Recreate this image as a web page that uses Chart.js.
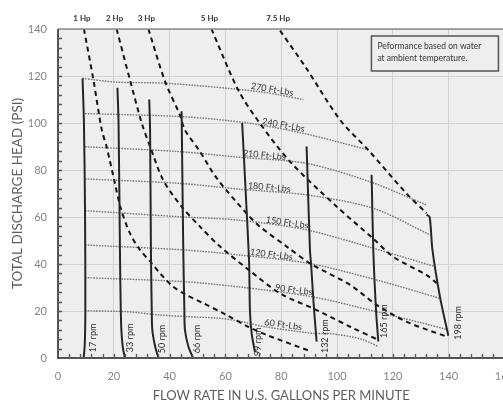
<!DOCTYPE html>
<html>
<head>
<meta charset="utf-8">
<script src="https://cdn.jsdelivr.net/npm/chart.js@4.4.1/dist/chart.umd.min.js"></script>
<style>
  html, body { margin: 0; padding: 0; background: #fff; overflow: hidden; width: 503px; height: 406px; }
  #wrap { position: relative; width: 526px; height: 406px; }
</style>
</head>
<body>
<div id="wrap"><canvas id="c" width="526" height="406"></canvas></div>
<script>
// ---- Axis ticks ----
const flowTicks = [0, 20, 40, 60, 80, 100, 120, 140, 160];
const headTicks = [0, 20, 40, 60, 80, 100, 120, 140];

// ---- Pump speed curves (flow in GPM, head in PSI) ----
const rpmLabels = ['17 rpm', '33 rpm', '50 rpm', '66 rpm', '99 rpm', '132 rpm', '165 rpm', '198 rpm'];
const rpmFlow = [
  [8.8, 9.3, 9.7, 9.8, 9.6, 9.2],
  [21.3, 21.7, 22.2, 22.5, 22.8, 23.3, 24.0],
  [32.7, 33.0, 33.3, 33.6, 33.8, 34.8, 36.0],
  [44.3, 44.9, 45.3, 45.5, 46.7, 48.4],
  [66.0, 67.6, 68.5, 68.8, 69.4, 70.6],
  [89.1, 90.3, 90.7, 91.8, 92.7],
  [112.4, 113.0, 114.0, 114.8],
  [132.1, 133.2, 134.2, 136.9, 139.9]
];
const rpmHead = [
  [119, 100, 60, 20, 6, 0],
  [115, 100, 46, 20, 10, 4, 0],
  [110, 97, 46, 20, 12, 5, 0],
  [105, 46, 20, 12, 5, 0],
  [100, 63, 40, 20, 10.5, 2.5],
  [90, 46, 40, 20, 7],
  [78, 46, 20, 7],
  [61, 60, 46, 26, 9.5]
];
// where each speed label sits (flow, head at the start of the text)
const rpmLabelFlow = [12.5, 25.8, 37.4, 49.7, 71.8, 95.7, 116.8, 143.5];
const rpmLabelHead = [2.5, 2.5, 2.0, 2.0, 0.8, 2.1, 8.5, 7.8];

// ---- Horsepower curves ----
const hpLabels = ['1 Hp', '2 Hp', '3 Hp', '5 Hp', '7.5 Hp'];
const hpFlow = [
  [9.3, 12.7, 15.7, 17.4, 20.4, 22.5, 25.8, 29.4, 33.6, 36.6, 41.3, 46.1, 52.1, 59.3, 68.2, 74.8, 90.9],
  [21.0, 25.8, 30.0, 33.0, 37.7, 44.3, 50.9, 58.1, 67.6, 79.6, 92.7, 104.7, 114.8],
  [32.4, 38.4, 43.7, 45.5, 50.9, 56.9, 67.6, 72.4, 82.0, 90.3, 104.7, 114.2, 125.0, 139.3],
  [55.0, 64.6, 72.4, 83.2, 99.9, 112.9, 120.1, 132.1, 135.7],
  [79.6, 88.6, 101.1, 111.2, 124.9, 132.1]
];
const hpHead = [
  [140, 118.3, 97, 90, 74.3, 63.7, 53, 46, 40.3, 36, 30.3, 26.8, 23.3, 19, 13.3, 9.8, 2.7],
  [140, 118.3, 100, 90, 75.7, 64.4, 55.9, 47.4, 38.2, 27.5, 20.4, 13.3, 7.7],
  [140, 117.6, 103.4, 97, 87.8, 76.5, 61.5, 55.9, 47.4, 40.3, 31.1, 22.6, 15.4, 9.1],
  [140, 114, 99.8, 83.5, 64.4, 50.9, 43.1, 35.3, 31.8],
  [139.3, 124, 101.3, 88.5, 70, 61.6]
];

// ---- Torque curves ----
const torqueLabels = ['270 Ft-Lbs', '240 Ft-Lbs', '210 Ft-Lbs', '180 Ft-Lbs', '150 Ft-Lbs', '120 Ft-Lbs', '90 Ft-Lbs', '60 Ft-Lbs'];
const torqueFlow = [
  [8.8, 21.0, 38.9, 72.4, 87.9],
  [9.7, 44.3, 68.0, 87.9, 110.6],
  [9.7, 43.7, 65.2, 89.1, 111.8, 132.1],
  [9.7, 43.7, 65.2, 89.1, 113.0, 133.5],
  [9.7, 43.7, 65.2, 89.1, 113.0, 135.1],
  [9.7, 44.9, 65.2, 89.7, 114.2, 136.9],
  [9.7, 44.9, 65.2, 90.9, 114.2, 139.3],
  [9.7, 24.6, 36.6, 46.1, 58.0, 65.2, 74.2, 91.5, 97.5, 108.2, 114.8]
];
const torqueHead = [
  [119, 117.4, 116.9, 113.3, 110],
  [104, 102.7, 100, 95.6, 88.8],
  [89.9, 87.8, 85.4, 82.8, 75, 65.1],
  [76.2, 74.3, 71.8, 69.4, 63.7, 52.3],
  [62.7, 60.1, 58.6, 54.5, 46.7, 38.9],
  [48.1, 46, 43.8, 40.3, 33.2, 25.4],
  [34.2, 32.5, 30.2, 26.1, 19.7, 12.2],
  [20.1, 19.7, 18.3, 17.6, 16.9, 15.6, 13.3, 10.5, 10.4, 8.2, 4.9]
];
// flow at which each torque label is centred
const torqueLabelFlow = [76.5, 80.5, 73.8, 75.6, 81.9, 76.3, 84.3, 80.5];

const noteLines = ['Peformance based on water', 'at ambient temperature.'];

const FONT = 'Lato, "Open Sans", sans-serif';
const pts = (f, h) => f.map((x, i) => ({ x, y: h[i] }));

const datasets = [];
torqueFlow.forEach((f, i) => datasets.push({
  label: torqueLabels[i], data: pts(f, torqueHead[i]), showLine: true,
  borderColor: '#767676', borderWidth: 1.4, borderDash: [1.6, 1.2], tension: 0.3, order: 3
}));
hpFlow.forEach((f, i) => datasets.push({
  label: hpLabels[i], data: pts(f, hpHead[i]), showLine: true,
  borderColor: '#151515', borderWidth: 2, borderDash: [5, 4], tension: 0.3, order: 2
}));
rpmFlow.forEach((f, i) => datasets.push({
  label: rpmLabels[i], data: pts(f, rpmHead[i]), showLine: true,
  borderColor: '#262626', borderWidth: 2, tension: 0.3, order: 1
}));

function along(f, h, xv) {
  for (let i = 0; i < f.length - 1; i++) {
    if (xv >= f[i] && xv <= f[i + 1]) {
      const t = (xv - f[i]) / (f[i + 1] - f[i]);
      return h[i] + t * (h[i + 1] - h[i]);
    }
  }
  return h[h.length - 1];
}

const chartDecor = {
  id: 'chartDecor',
  beforeDraw(chart) {
    const { ctx, chartArea: a } = chart;
    ctx.save();
    ctx.fillStyle = '#eeeeee';
    ctx.fillRect(a.left, a.top, a.right - a.left, a.bottom - a.top);
    ctx.restore();
  },
  afterDraw(chart) {
    const { ctx, chartArea: a, scales: { x, y } } = chart;
    ctx.save();
    // frame
    ctx.strokeStyle = '#8a8a8a';
    ctx.lineWidth = 1.5;
    ctx.beginPath();
    ctx.moveTo(a.left, a.top); ctx.lineTo(a.right, a.top); ctx.lineTo(a.right, a.bottom);
    ctx.stroke();
    ctx.strokeStyle = '#555';
    ctx.lineWidth = 2;
    ctx.beginPath();
    ctx.moveTo(a.left, a.top); ctx.lineTo(a.left, a.bottom); ctx.lineTo(a.right, a.bottom);
    ctx.stroke();
    // inward minor ticks every 4 units
    ctx.lineWidth = 1.3;
    ctx.strokeStyle = '#555';
    ctx.beginPath();
    for (let v = 4; v < 160; v += 4) {
      const px = Math.round(x.getPixelForValue(v)) + 0.5;
      ctx.moveTo(px, a.bottom); ctx.lineTo(px, a.bottom - 4);
    }
    for (let v = 4; v < 140; v += 4) {
      const py = Math.round(y.getPixelForValue(v)) + 0.5;
      ctx.moveTo(a.left, py); ctx.lineTo(a.left + 4, py);
    }
    ctx.stroke();

    // horsepower labels above the plot
    ctx.fillStyle = '#333';
    ctx.font = 'bold 8px ' + FONT;
    ctx.textAlign = 'center';
    ctx.textBaseline = 'middle';
    hpFlow.forEach((f, i) => {
      ctx.fillText(hpLabels[i], x.getPixelForValue(f[0]) - 2, a.top - 11);
    });

    // torque labels, tilted along their curves
    ctx.font = '9px ' + FONT;
    ctx.fillStyle = '#353535';
    ctx.textBaseline = 'alphabetic';
    torqueFlow.forEach((f, i) => {
      const xv = torqueLabelFlow[i];
      const h = torqueHead[i];
      const x0 = x.getPixelForValue(xv - 6), y0 = y.getPixelForValue(along(f, h, xv - 6));
      const x1 = x.getPixelForValue(xv + 6), y1 = y.getPixelForValue(along(f, h, xv + 6));
      const ang = Math.atan2(y1 - y0, x1 - x0);
      ctx.save();
      ctx.translate(x.getPixelForValue(xv), y.getPixelForValue(along(f, h, xv)));
      ctx.rotate(ang);
      ctx.fillText(torqueLabels[i], 0, -1.5);
      ctx.restore();
    });

    // speed labels, vertical
    ctx.font = '9px ' + FONT;
    ctx.fillStyle = '#2a2a2a';
    ctx.textAlign = 'left';
    ctx.textBaseline = 'middle';
    rpmLabels.forEach((t, i) => {
      ctx.save();
      ctx.translate(x.getPixelForValue(rpmLabelFlow[i]), y.getPixelForValue(rpmLabelHead[i]));
      ctx.rotate(-Math.PI / 2);
      ctx.fillText(t, 0, 0);
      ctx.restore();
    });

    // note box
    const bw = 127, bh = 35;
    const bx = a.right - 6 - bw, by = a.top + 7;
    ctx.fillStyle = '#eeeeee';
    ctx.fillRect(bx, by, bw, bh);
    ctx.strokeStyle = '#555';
    ctx.lineWidth = 1.5;
    ctx.strokeRect(bx, by, bw, bh);
    ctx.fillStyle = '#333';
    ctx.font = '8.5px ' + FONT;
    ctx.textAlign = 'left';
    ctx.textBaseline = 'middle';
    ctx.fillText(noteLines[0], bx + 6, by + 10);
    ctx.fillText(noteLines[1], bx + 6, by + 22);
    ctx.restore();
  }
};

new Chart(document.getElementById('c'), {
  type: 'scatter',
  data: { datasets },
  options: {
    responsive: false,
    animation: false,
    devicePixelRatio: 1,
    layout: { padding: { top: 29, left: 0, right: 0, bottom: 0 } },
    elements: { point: { radius: 0, hoverRadius: 0 } },
    plugins: { legend: { display: false }, tooltip: { enabled: false } },
    scales: {
      x: {
        type: 'linear', min: 0, max: 160,
        afterBuildTicks: s => { s.ticks = flowTicks.map(v => ({ value: v })); },
        afterFit: s => { s.height = 48; },
        grid: { color: '#d2d2d2', lineWidth: 1, drawTicks: false },
        border: { display: false },
        ticks: { color: '#858585', font: { family: FONT, size: 11 }, padding: 12, maxRotation: 0 },
        title: { display: true, text: 'FLOW RATE IN U.S. GALLONS PER MINUTE', color: '#5e5e5e',
                 font: { family: FONT, size: 13 }, padding: { top: 0, bottom: 2 } }
      },
      y: {
        type: 'linear', min: 0, max: 140,
        afterBuildTicks: s => { s.ticks = headTicks.map(v => ({ value: v })); },
        afterFit: s => { s.width = 58; },
        grid: { color: '#d2d2d2', lineWidth: 1, drawTicks: false },
        border: { display: false },
        ticks: { color: '#858585', font: { family: FONT, size: 11 }, padding: 11 },
        title: { display: true, text: 'TOTAL DISCHARGE HEAD (PSI)', color: '#5e5e5e',
                 font: { family: FONT, size: 13.5 }, padding: { top: 10, bottom: 0 } }
      }
    }
  },
  plugins: [chartDecor]
});
</script>
</body>
</html>
